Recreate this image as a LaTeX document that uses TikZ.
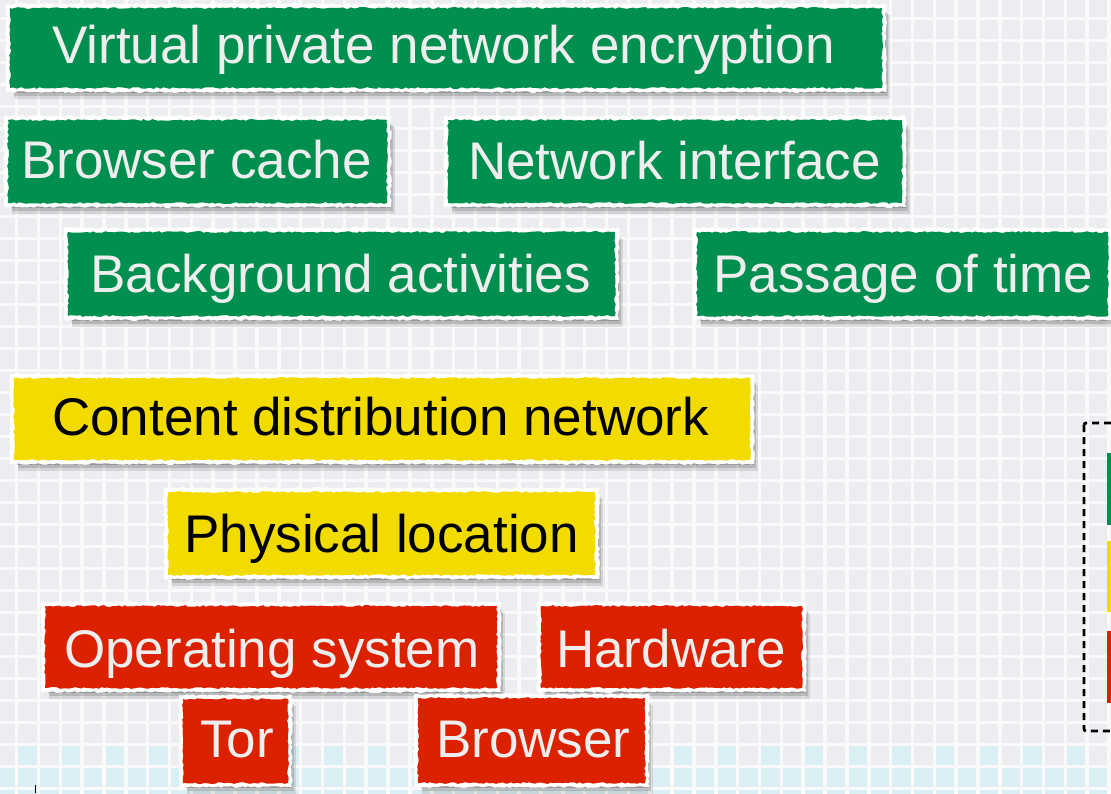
\documentclass[tikz,border=0pt]{standalone}
\usepackage{fontspec}
\setmainfont{Liberation Sans}
\usetikzlibrary{decorations.pathmorphing}

\definecolor{tagGreen}{HTML}{008F4F}
\definecolor{tagYellow}{HTML}{F2DC00}
\definecolor{tagRed}{HTML}{DC2100}
\definecolor{paper}{HTML}{F9F9FA}
\definecolor{cell}{HTML}{ECEDF0}
\definecolor{cellCyan}{HTML}{DAEFF3}
\definecolor{labelWhite}{HTML}{EEEEEE}
\definecolor{shadowgrey}{HTML}{404040}

\tikzset{
  torn/.style={decorate, decoration={random steps, segment length=3pt, amplitude=0.9pt}},
  tag fill G/.style={fill=tagGreen},
  tag fill Y/.style={fill=tagYellow},
  tag fill R/.style={fill=tagRed},
  tag label/.style={anchor=base west, inner sep=0pt, font=\fontsize{53}{60}\selectfont},
  tag text G/.style={tag label, text=labelWhite},
  tag text Y/.style={tag label, text=black},
  tag text R/.style={tag label, text=labelWhite},
}

% #1 colour kind, #2 node name, #3-#6 tape corners, #7-#8 text start and baseline, #9 text
\newcommand{\tornbox}[9]{%
  \fill[shadowgrey, opacity=0.14] (#3+4,#4+7) rectangle (#5+8,#6+11);
  \fill[shadowgrey, opacity=0.2] (#3+4,#4+5) rectangle (#5+6,#6+8);
  \fill[shadowgrey, opacity=0.28] (#3+3,#4+3) rectangle (#5+4,#6+5);
  \fill[white, torn] (#3-4,#4-4) rectangle (#5+4,#6+4);
  \fill[tag fill #1, torn] (#3,#4) rectangle (#5,#6);
  \node[tag text #1] (#2) at (#7,#8) {#9};
}

\begin{document}
\begin{tikzpicture}[x=1pt, y=-1pt]
\pgfmathsetseed{4711}
\useasboundingbox (0,0) rectangle (1111,793);

% squared paper background
\fill[paper] (0,0) rectangle (1111,793);
\foreach \i in {0,...,51} {
  \foreach \j in {0,...,36} {
    \fill[cell] (-3.5+21.85*\i, -2+22*\j) rectangle ++(18.3,18.5);
  }
}
% light cyan cells along the lower edge
\foreach \i in {0,...,51} {
  \fill[cellCyan] (-3.5+21.85*\i, 768) rectangle ++(18.3,18.5);
  \fill[cellCyan] (-3.5+21.85*\i, 790) rectangle ++(18.3,18.5);
}
\foreach \i in {1,3,...,51} {
  \fill[cellCyan] (-3.5+21.85*\i, 746) rectangle ++(18.3,18.5);
}
\draw[black, line width=1pt] (35,785) -- (35,793);

% green tapes
\tornbox{G}{vpn}{10}{8}{882}{88}{52}{63}{Virtual private network encryption}
\tornbox{G}{cache}{8}{120}{387}{203}{21}{178}{Browser cache}
\tornbox{G}{nic}{448}{120}{902}{203}{468}{179}{Network interface}
\tornbox{G}{bg}{68}{232}{615}{316}{90}{292}{Background activities}
\tornbox{G}{time}{697}{232}{1108}{316}{713}{292}{Passage of time}

% yellow tapes
\tornbox{Y}{cdn}{14}{378}{750}{460}{52}{435}{Content distribution network}
\tornbox{Y}{loc}{168}{492}{595}{575}{184}{552}{Physical location}

% red tapes
\tornbox{R}{os}{45}{606}{497}{688}{64}{667}{Operating system}
\tornbox{R}{hw}{541}{606}{802}{688}{556}{667}{Hardware}
\tornbox{R}{tor}{183}{699}{288}{783}{200}{757}{Tor}
\tornbox{R}{browser}{418}{698}{645}{783}{436}{757}{Browser}

% legend frame with colour keys
\draw[black, line width=2.8pt, dash pattern=on 7pt off 5pt, rounded corners=2pt]
  (1084,423) rectangle (1140,731);
\fill[tagGreen]  (1107,453) rectangle (1120,525);
\fill[tagYellow] (1107,541) rectangle (1120,612);
\fill[tagRed]    (1107,631) rectangle (1120,703);
\end{tikzpicture}
\end{document}
